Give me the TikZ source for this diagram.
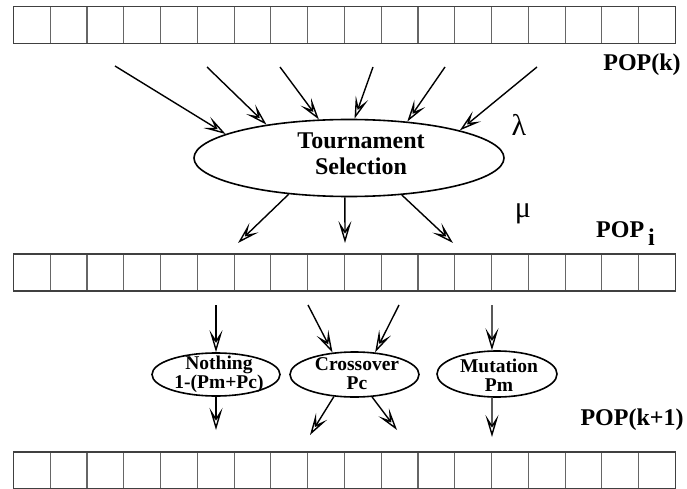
\documentclass[tikz,border=0pt]{standalone}
\usepackage{fontspec}
\setmainfont{Liberation Serif}
\usetikzlibrary{arrows.meta,shapes.geometric}
\begin{document}
\begin{tikzpicture}[x=1pt,y=1pt,
  barout/.style={draw=black!75, line width=1.4pt},
  barin/.style={draw=black!60, line width=1.1pt},
  oval/.style={draw, ellipse, line width=1.6pt, inner sep=0pt},
  arr/.style={line width=1.4pt, -{Stealth[open, length=22pt, width=13pt, inset=10pt]}},
  lab/.style={font=\bfseries\fontsize{24}{24}\selectfont, inner sep=0pt},
  otext/.style={font=\bfseries\fontsize{19.5}{19}\selectfont, align=center, inner sep=0pt},
  ttext/.style={font=\bfseries\fontsize{24}{26}\selectfont, align=center, inner sep=0pt},
  greek/.style={font=\fontsize{30}{30}\selectfont, inner sep=0pt}]
\useasboundingbox (0,0) rectangle (687,488);
% population bars
\foreach \yb/\yt in {444.3/481.7, 197/234, -1/36}{
  \foreach \i in {1,...,17}
    \draw[barin] ({13.5+36.77*\i},\yb) -- ({13.5+36.77*\i},\yt);
  \draw[barout] (13.5,\yb) rectangle (675.3,\yt);
}
% labels
\node[lab, anchor=base] (popk) at (642,417) {POP(k)};
\node[lab, anchor=base west] (popi) at (596,251) {POP\,\raisebox{-8pt}{i}};
\node[lab, anchor=base] (popk1) at (632,63) {POP(k+1)};
\node[greek] (lambda) at (519,363) {λ};
\node[greek] (mu) at (523,274) {μ};
% tournament selection
\node[oval, minimum width=310pt, minimum height=77pt] (ts) at (349,330) {};
\node[ttext] (tstext) at (361,334) {Tournament\\Selection};
\coordinate (s1) at (115,422);
\coordinate (s2) at (207,421);
\coordinate (s3) at (280,421);
\coordinate (s4) at (373,421);
\coordinate (s5) at (445,421);
\coordinate (s6) at (537,421);
\draw[arr] (s1) -- (ts.169);
\draw[arr] (s2) -- (ts.158.5);
\draw[arr] (s3) -- (ts.128.3);
\draw[arr] (s4) -- (ts.82);
\draw[arr] (s5) -- (ts.32.4);
\draw[arr] (s6) -- (ts.14.3);
\coordinate (t1) at (238,245);
\coordinate (t2) at (345,245);
\coordinate (t3) at (453,245);
\draw[arr] (ts.211.2) -- (t1);
\draw[arr] (ts.264) -- (t2);
\draw[arr] (ts.325.1) -- (t3);
% operators
\node[oval, minimum width=128pt, minimum height=43pt] (nothing) at (216,113.5) {};
\node[otext] (nothingtext) at (219,114) {Nothing\\1-(Pm+Pc)};
\node[oval, minimum width=129pt, minimum height=45pt] (cross) at (354.5,113.5) {};
\node[otext] (crosstext) at (357,114) {Crossover\\Pc};
\node[oval, minimum width=120pt, minimum height=46pt] (mut) at (497,114) {};
\node[otext] (muttext) at (499,113) {Mutation\\Pm};
\coordinate (nin) at (216,183);
\coordinate (cin1) at (308,183);
\coordinate (cin2) at (399,183);
\coordinate (min) at (492,183);
\coordinate (nout) at (216,58);
\coordinate (cout1) at (310,53);
\coordinate (cout2) at (397,58);
\coordinate (mout) at (492,51);
\draw[arr] (nin) -- (nothing.north);
\draw[arr] (cin1) -- (cross.135.4);
\draw[arr] (cin2) -- (cross.47.7);
\draw[arr] (min) -- (mut.102);
\draw[arr] (nothing.south) -- (nout);
\draw[arr] (cross.227.7) -- (cout1);
\draw[arr] (cross.308.9) -- (cout2);
\draw[arr] (mut.258) -- (mout);
\end{tikzpicture}
\end{document}
